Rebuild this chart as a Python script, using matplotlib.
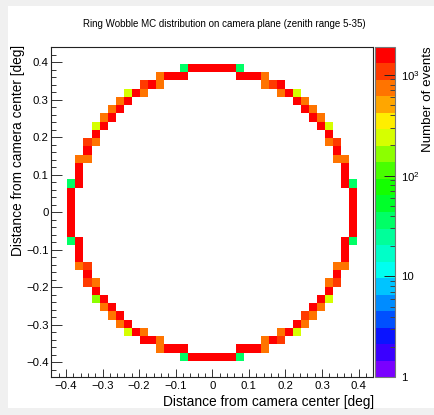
import numpy as np
import matplotlib
matplotlib.use("Agg")
import matplotlib.pyplot as plt
from matplotlib.colors import ListedColormap, LogNorm
from matplotlib.patches import Rectangle
from matplotlib.ticker import MultipleLocator, FuncFormatter, FixedLocator, LogLocator, NullFormatter

plt.rcParams['font.family'] = ['Liberation Sans', 'DejaVu Sans']
plt.rcParams['mathtext.fontset'] = 'custom'
plt.rcParams['mathtext.rm'] = 'Liberation Sans'
plt.rcParams['mathtext.it'] = 'Liberation Sans:italic'
plt.rcParams['mathtext.bf'] = 'Liberation Sans:bold'

# 40 x 40 binning of the camera plane [deg]
x_edges = np.linspace(-0.44, 0.44, 41)
y_edges = np.linspace(-0.44, 0.44, 41)

# Filled bins, one row of the camera plane per entry: bin-centre y [deg],
# bin-centre x positions [deg] and event counts in each bin
row_y = [0.385, 0.363, 0.341, 0.319, 0.297, 0.275, 0.253, 0.231, 0.209,
         0.187, 0.165, 0.143, 0.121, 0.099, 0.077, 0.055, 0.033, 0.011,
         -0.011, -0.033, -0.055, -0.077, -0.099, -0.121, -0.143, -0.165,
         -0.187, -0.209, -0.231, -0.253, -0.275, -0.297, -0.319, -0.341,
         -0.363, -0.385]

row_x = [
    [-0.077, -0.055, -0.033, -0.011, 0.011, 0.033, 0.055, 0.077],
    [-0.143, -0.121, -0.099, -0.077, 0.077, 0.099, 0.121, 0.143],
    [-0.187, -0.165, -0.143, 0.143, 0.165, 0.187],
    [-0.231, -0.209, -0.187, 0.187, 0.209, 0.231],
    [-0.253, -0.231, 0.231, 0.253],
    [-0.275, -0.253, 0.253, 0.275],
    [-0.297, -0.275, 0.275, 0.297],
    [-0.319, -0.297, 0.297, 0.319],
    [-0.319, 0.319],
    [-0.341, -0.319, 0.319, 0.341],
    [-0.341, 0.341],
    [-0.363, -0.341, 0.341, 0.363],
    [-0.363, 0.363],
    [-0.363, 0.363],
    [-0.385, -0.363, 0.363, 0.385],
    [-0.385, 0.385],
    [-0.385, 0.385],
    [-0.385, 0.385],
    [-0.385, 0.385],
    [-0.385, 0.385],
    [-0.385, 0.385],
    [-0.385, -0.363, 0.363, 0.385],
    [-0.363, 0.363],
    [-0.363, 0.363],
    [-0.363, -0.341, 0.341, 0.363],
    [-0.341, 0.341],
    [-0.341, -0.319, 0.319, 0.341],
    [-0.319, 0.319],
    [-0.319, -0.297, 0.297, 0.319],
    [-0.297, -0.275, 0.275, 0.297],
    [-0.275, -0.253, 0.253, 0.275],
    [-0.253, -0.231, 0.231, 0.253],
    [-0.231, -0.209, -0.187, 0.187, 0.209, 0.231],
    [-0.187, -0.165, -0.143, 0.143, 0.165, 0.187],
    [-0.143, -0.121, -0.099, -0.077, 0.077, 0.099, 0.121, 0.143],
    [-0.077, -0.055, -0.033, -0.011, 0.011, 0.033, 0.055, 0.077],
]

row_counts = [
    [36, 1620, 1700, 1740, 1730, 1690, 1610, 37],
    [740, 1560, 1650, 1480, 1470, 1640, 1570, 730],
    [1120, 1450, 760, 750, 1130, 1440],
    [245, 1520, 700, 710, 1510, 250],
    [720, 1480, 1470, 730],
    [760, 1500, 1490, 750],
    [730, 1460, 1450, 740],
    [240, 1530, 1520, 235],
    [1580, 1570],
    [1080, 690, 700, 1090],
    [1600, 1610],
    [720, 710, 730, 715],
    [1650, 1660],
    [1700, 1690],
    [35, 1560, 1570, 36],
    [1750, 1740],
    [1770, 1760],
    [1780, 1790],
    [1770, 1780],
    [1750, 1760],
    [1740, 1730],
    [36, 1550, 1560, 35],
    [1690, 1700],
    [1660, 1650],
    [730, 1100, 720, 735],
    [1610, 1600],
    [1090, 700, 690, 1080],
    [1570, 1580],
    [170, 1520, 1530, 250],
    [735, 1450, 1460, 725],
    [745, 1490, 1110, 760],
    [725, 1480, 1470, 720],
    [250, 1510, 710, 700, 1520, 245],
    [1440, 1450, 755, 765, 1460, 1120],
    [735, 1570, 1640, 1470, 1480, 1650, 1560, 740],
    [37, 1610, 1690, 1730, 1740, 1700, 1620, 36],
]

# Rainbow palette, 20 contour levels (violet -> red)
palette = ['#7a00ff', '#3a00ff', '#0a14ff', '#0050ff', '#008cff',
           '#00c4ff', '#00fff0', '#00ffc8', '#00ff9a', '#00ff66',
           '#00ff2a', '#14ff00', '#48ff00', '#8cff00', '#d6ff00',
           '#ffee00', '#ffa600', '#ff7400', '#ff3a00', '#ff0000']
z_min, z_max = 1, 1900

cell_x = np.concatenate([np.asarray(xs) for xs in row_x])
cell_y = np.concatenate([np.full(len(xs), y) for xs, y in zip(row_x, row_y)])
cell_n = np.concatenate([np.asarray(ns, float) for ns in row_counts])

hist, _, _ = np.histogram2d(cell_x, cell_y, bins=[x_edges, y_edges], weights=cell_n)
hist = np.ma.masked_less_equal(hist.T, 0)

W, H = 434, 415
fig = plt.figure(figsize=(W / 100, H / 100), dpi=100)
fig.patch.set_facecolor('#f0f0f0')
fig.patches.append(Rectangle((8 / W, 7 / H), (W - 8) / W, (H - 13) / H,
                             transform=fig.transFigure, facecolor='white',
                             edgecolor='none', zorder=-10))

ax = fig.add_axes([51.3 / W, 1 - 377.3 / H, 322 / W, 330 / H])
cmap = ListedColormap(palette)
norm = LogNorm(vmin=z_min, vmax=z_max)
mesh = ax.pcolormesh(x_edges, y_edges, hist, cmap=cmap, norm=norm)

ax.set_xlim(-0.44, 0.44)
ax.set_ylim(-0.44, 0.44)
for sp in ax.spines.values():
    sp.set_linewidth(0.8)
    sp.set_color('#222222')


def fmt(v, pos):
    s = '%g' % round(v, 3)
    return s.replace('-', '\u2212')


for axis in (ax.xaxis, ax.yaxis):
    axis.set_major_locator(MultipleLocator(0.1))
    axis.set_minor_locator(MultipleLocator(0.02))
    axis.set_major_formatter(FuncFormatter(fmt))
ax.tick_params(axis='x', which='major', direction='in', length=5.6, width=0.7,
               labelsize=8.2, pad=3, color='#333333')
ax.tick_params(axis='x', which='minor', direction='in', length=2.9, width=0.7,
               color='#333333')
ax.tick_params(axis='y', which='major', direction='in', length=8, width=0.7,
               labelsize=8.2, pad=2, color='#333333')
ax.tick_params(axis='y', which='minor', direction='in', length=3.9, width=0.7,
               color='#333333')

cax = fig.add_axes([375.3 / W, 1 - 377.3 / H, 20 / W, 330.6 / H])
cbar = fig.colorbar(mesh, cax=cax)
cbar.outline.set_edgecolor('#777777')
cbar.outline.set_linewidth(0.8)
cax.yaxis.set_ticks_position('right')
cax.yaxis.set_major_locator(FixedLocator([1, 10, 100, 1000]))
cax.yaxis.set_minor_locator(LogLocator(base=10, subs=np.arange(2, 10)))
cax.yaxis.set_minor_formatter(NullFormatter())
cax.set_yticklabels(['1', '10', r'$\mathregular{10^{2}}$', r'$\mathregular{10^{3}}$'])
cax.tick_params(which='major', direction='in', length=8, width=0.7,
                labelsize=8.2, pad=4, color='#222222')
cax.tick_params(which='minor', direction='in', length=3.8, width=0.7,
                color='#444444')

fig.text(224 / W, 1 - 24 / H,
         'Ring Wobble MC distribution on camera plane (zenith range 5-35)',
         ha='center', va='center', fontsize=7)
fig.text(374 / W, 1 - 402 / H, 'Distance from camera center [deg]',
         ha='right', va='center', fontsize=9.9)
fig.text(18 / W, 1 - 45 / H, 'Distance from camera center [deg]',
         ha='center', va='top', rotation=90, fontsize=9.9)
fig.text(428 / W, 1 - 46 / H, 'Number of events',
         ha='center', va='top', rotation=90, fontsize=9.6)

fig.savefig('out.png', dpi=100, facecolor=fig.get_facecolor())
